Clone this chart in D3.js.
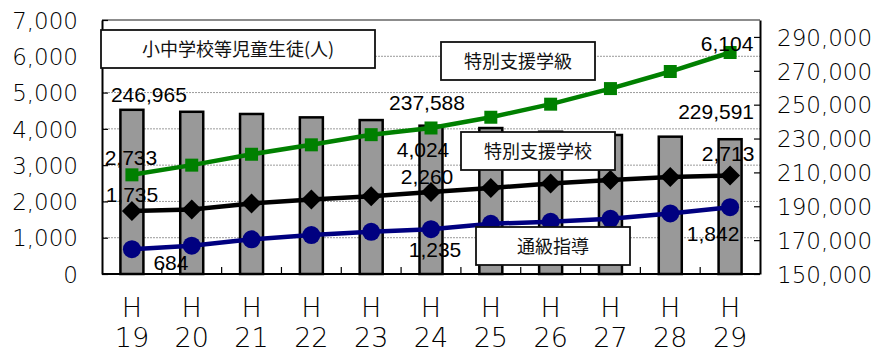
<!DOCTYPE html>
<html>
<head>
<meta charset="utf-8">
<script src="https://cdn.jsdelivr.net/npm/d3@7/dist/d3.min.js"></script>
<style>
body { margin: 0; background: #fff; }
#graphicContainer { width: 877px; height: 354px; }
</style>
</head>
<body>
<div id="graphicContainer"></div>
<script>
var years = ["19", "20", "21", "22", "23", "24", "25", "26", "27", "28", "29"]
var pupils = [246965, 245800, 244500, 242500, 240900, 237588, 236200, 234000, 232100, 231100, 229591]
var gakkyu = [2733, 3000, 3300, 3560, 3840, 4024, 4320, 4680, 5110, 5580, 6104]
var gakko = [1735, 1780, 1945, 2050, 2145, 2260, 2370, 2495, 2590, 2676, 2713]
var tsukyu = [684, 780, 955, 1072, 1164, 1235, 1385, 1440, 1520, 1670, 1842]
var leftTicks = [0, 1000, 2000, 3000, 4000, 5000, 6000, 7000]
var rightTicks = [150000, 170000, 190000, 210000, 230000, 250000, 270000, 290000]
var boxTexts = ["小中学校等児童生徒(人)", "特別支援学級", "特別支援学校", "通級指導"]

// which points get a value label, and where (offset from the point)
var barLabels = [{i: 0, dx: 17, dy: -15}, {i: 5, dx: -4, dy: -23}, {i: 10, dx: -14, dy: -28}]
var gakkyuLabels = [{i: 0, dx: -1, dy: -17}, {i: 5, dx: -8, dy: 21}, {i: 10, dx: -3, dy: -9}]
var gakkoLabels = [{i: 0, dx: 0, dy: -17}, {i: 5, dx: -4, dy: -16}, {i: 10, dx: -2, dy: -22}]
var tsukyuLabels = [{i: 0, dx: 39, dy: 13}, {i: 5, dx: 4, dy: 20}, {i: 10, dx: -17, dy: 26}]

function init() {
	var margin = {top: 20, right: 117, bottom: 80, left: 102}
	var width = 877 - margin.left - margin.right
	var height = 354 - margin.top - margin.bottom

	var svg = d3.select("#graphicContainer").append("svg")
		.attr("width", 877)
		.attr("height", 354)

	var features = svg.append("g").attr("transform", "translate(" + margin.left + "," + margin.top + ")")

	var x = d3.scaleBand().domain(years).range([0, width]).paddingInner(0).paddingOuter(0)
	var y = d3.scaleLinear().domain([0, 7000]).range([height, 0])
	var y2 = d3.scaleLinear().domain([150000, 300000]).range([height, 0])
	var cx = function(i) { return x(years[i]) + x.bandwidth() / 2 }

	// gridlines
	features.selectAll(".grid")
		.data(leftTicks.slice(1, -1))
		.enter().append("line")
		.attr("x1", 0).attr("x2", width)
		.attr("y1", function(d) { return y(d) }).attr("y2", function(d) { return y(d) })
		.attr("stroke", "#9a9a9a")
		.attr("stroke-width", 1)
		.attr("stroke-dasharray", "2,1")

	// top border
	features.append("line")
		.attr("x1", 0).attr("x2", width).attr("y1", 0).attr("y2", 0)
		.attr("stroke", "#8c8c8c").attr("stroke-width", 2)

	// bars (right axis)
	features.selectAll(".bar")
		.data(pupils)
		.enter().append("rect")
		.attr("class", "bar")
		.attr("x", function(d, i) { return cx(i) - 11.5 })
		.attr("width", 23)
		.attr("y", function(d) { return y2(d) })
		.attr("height", function(d) { return height - y2(d) })
		.attr("fill", "#999999")
		.attr("stroke", "#000")
		.attr("stroke-width", 2.5)

	// axes
	var yAxis = d3.axisLeft(y).tickValues(leftTicks).tickFormat(d3.format(",")).tickSizeInner(-6).tickSizeOuter(0).tickPadding(24)
	var yAxis2 = d3.axisRight(y2).tickValues(rightTicks).tickFormat(d3.format(",")).tickSizeInner(-6).tickSizeOuter(0).tickPadding(17)

	var gl = features.append("g").attr("class", "y").call(yAxis)
	var gr = features.append("g").attr("class", "y2").attr("transform", "translate(" + width + ",0)").call(yAxis2)

	;[gl, gr].forEach(function(g) {
		g.select(".domain").attr("stroke", "#000").attr("stroke-width", 2)
		g.selectAll(".tick line").attr("stroke", "#000").attr("stroke-width", 1.2)
		g.selectAll(".tick text")
			.attr("font-family", "DejaVu Sans")
			.attr("font-weight", 200)
			.attr("font-size", "23px")
			.attr("fill", "#000")
			.attr("dy", "0.36em")
	})

	// bottom axis
	features.append("line")
		.attr("x1", 0).attr("x2", width).attr("y1", height).attr("y2", height)
		.attr("stroke", "#000").attr("stroke-width", 2)

	features.selectAll(".xtick")
		.data(years.slice(1))
		.enter().append("line")
		.attr("x1", function(d) { return x(d) }).attr("x2", function(d) { return x(d) })
		.attr("y1", height).attr("y2", height - 7)
		.attr("stroke", "#000").attr("stroke-width", 1.2)

	var xl = features.selectAll(".xlabel")
		.data(years)
		.enter().append("text")
		.attr("class", "xlabel")
		.attr("text-anchor", "middle")
		.attr("font-family", "DejaVu Sans")
		.attr("font-weight", 200)
		.attr("font-size", "27px")
		.attr("fill", "#000")

	xl.append("tspan")
		.attr("x", function(d, i) { return cx(i) })
		.attr("y", height + 43)
		.text("H")

	xl.append("tspan")
		.attr("x", function(d, i) { return cx(i) })
		.attr("y", height + 73)
		.text(function(d) { return d })

	// lines
	function drawSeries(values, colour, marker) {
		var line = d3.line()
			.x(function(d, i) { return cx(i) })
			.y(function(d) { return y(d) })

		features.append("path")
			.datum(values)
			.attr("d", line)
			.attr("fill", "none")
			.attr("stroke", colour)
			.attr("stroke-width", 4.5)

		features.selectAll(".m" + colour.replace("#", ""))
			.data(values)
			.enter().append("path")
			.attr("transform", function(d, i) { return "translate(" + cx(i) + "," + y(d) + ")" })
			.attr("d", marker)
			.attr("fill", colour)
	}

	drawSeries(gakkyu, "#008000", d3.symbol().type(d3.symbolSquare).size(169)())
	drawSeries(gakko, "#000000", "M0,-10L10,0L0,10L-10,0Z")
	drawSeries(tsukyu, "#000080", d3.symbol().type(d3.symbolCircle).size(Math.PI * 81)())

	// callout boxes
	var boxes = [
		{x: -1, y: 10, w: 274, h: 38, t: boxTexts[0]},
		{x: 339, y: 22, w: 154, h: 38, t: boxTexts[1]},
		{x: 359, y: 112, w: 154, h: 38, t: boxTexts[2]},
		{x: 374, y: 207, w: 154, h: 38, t: boxTexts[3]}
	]

	var bx = features.selectAll(".box")
		.data(boxes)
		.enter().append("g")

	bx.append("rect")
		.attr("x", function(d) { return d.x })
		.attr("y", function(d) { return d.y })
		.attr("width", function(d) { return d.w })
		.attr("height", function(d) { return d.h })
		.attr("fill", "#fff")
		.attr("stroke", "#111")
		.attr("stroke-width", 1.8)

	bx.append("text")
		.attr("x", function(d) { return d.x + d.w / 2 })
		.attr("y", function(d) { return d.y + d.h / 2 + 1 })
		.attr("dy", "0.35em")
		.attr("text-anchor", "middle")
		.attr("font-family", "Noto Sans CJK JP")
		.attr("font-size", "18px")
		.attr("fill", "#111")
		.text(function(d) { return d.t })

	// value labels
	function addLabels(list, values, scale) {
		list.forEach(function(l) {
			features.append("text")
				.attr("x", cx(l.i) + l.dx)
				.attr("y", scale(values[l.i]) + l.dy)
				.attr("dy", "0.36em")
				.attr("text-anchor", "middle")
				.attr("font-family", "Liberation Sans")
				.attr("font-size", "21px")
				.attr("fill", "#000")
				.text(d3.format(",")(values[l.i]))
		})
	}

	addLabels(barLabels, pupils, y2)
	addLabels(gakkyuLabels, gakkyu, y)
	addLabels(gakkoLabels, gakko, y)
	addLabels(tsukyuLabels, tsukyu, y)
}

init()
</script>
</body>
</html>
